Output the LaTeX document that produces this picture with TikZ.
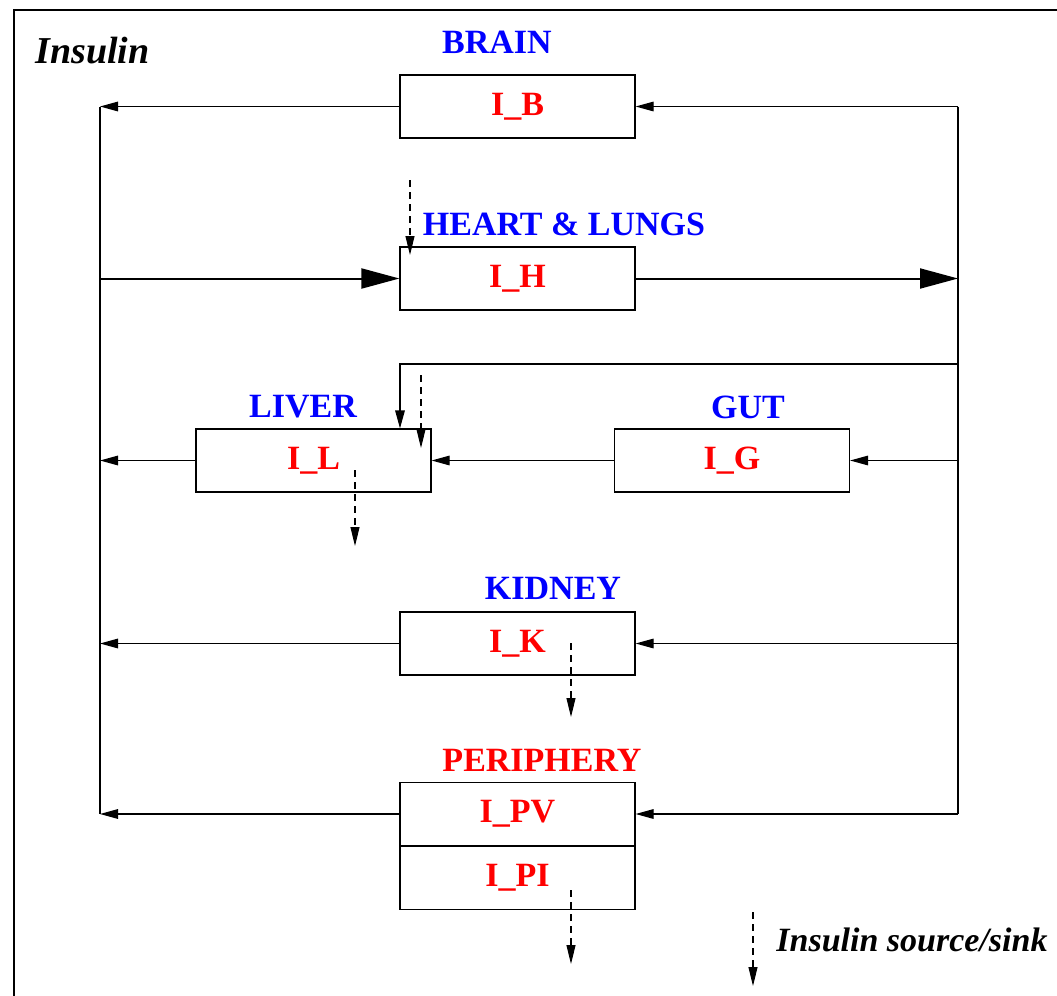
\documentclass[tikz,border=0pt]{standalone}
\usepackage{fontspec}
\setmainfont{Liberation Serif}
\usetikzlibrary{arrows.meta,calc}

\definecolor{organblue}{RGB}{0,0,255}
\definecolor{poolred}{RGB}{255,0,0}

\tikzset{
  pool/.style={draw,line width=0.6pt,minimum width=117.5pt,minimum height=31.5pt,
    inner sep=0pt,font=\fontsize{17}{17}\selectfont\bfseries,text=poolred},
  organ/.style={font=\fontsize{17}{17}\selectfont\bfseries,text=organblue,inner sep=0pt},
  flow/.style={line width=0.6pt,-{Triangle[length=9pt,width=4.8pt]}},
  bigflow/.style={line width=1pt,-{Triangle[length=19pt,width=10pt]}},
  sink/.style={line width=0.55pt,dash pattern=on 3.5pt off 2.5pt,-{Triangle[length=9.5pt,width=4.5pt]}}
}

\begin{document}
\begin{tikzpicture}[x=0.5pt,y=-0.5pt]

    % page frame and margins
    \useasboundingbox (0,0) rectangle (1057,996);
    \draw[line width=0.6pt] (14,996) -- (14,10) -- (1057,10);
    \node[anchor=base west,inner sep=0pt,font=\fontsize{19}{19}\selectfont\bfseries\itshape] (title) at (35,63) {Insulin};

    % compartments
    \node[pool] (brain) at (517.5,106.5) {\raisebox{-1pt}{I\_B}};
    \node[pool] (heart) at (517.5,278.5) {\raisebox{-1pt}{I\_H}};
    \node[pool] (liver) at (313.5,460.5) {\raisebox{-1pt}{I\_L}};
    \node[pool] (gut) at (732,460.5) {\raisebox{-1pt}{I\_G}};
    \node[pool] (kidney) at (517.5,643.5) {\raisebox{-1pt}{I\_K}};
    \node[pool] (pv) at (517.5,814) {\raisebox{-1pt}{I\_PV}};
    \node[pool,anchor=north] (pi) at (pv.south) {\raisebox{-1pt}{I\_PI}};

    % organ names
    \node[organ] (brainlbl) at (497,42) {BRAIN};
    \node[organ] (heartlbl) at (564,224) {HEART \& LUNGS};
    \node[organ] (liverlbl) at (303,407) {LIVER};
    \node[organ] (gutlbl) at (748,407) {GUT};
    \node[organ] (kidneylbl) at (553,588) {KIDNEY};
    \node[organ,text=poolred] (perilbl) at (542,760) {PERIPHERY};

    % venous and arterial buses
    \coordinate (vtop) at (100,106.5);
    \coordinate (vbot) at (100,814);
    \coordinate (atop) at (958,106.5);
    \coordinate (abot) at (958,814);
    \draw[line width=0.6pt] (vtop) -- (vbot);
    \draw[line width=0.6pt] (atop) -- (abot);

    % venous return
    \draw[flow] (brain.west) -- (brain.west -| vtop);
    \draw[flow] (liver.west) -- (liver.west -| vtop);
    \draw[flow] (kidney.west) -- (kidney.west -| vtop);
    \draw[flow] (pv.west) -- (pv.west -| vtop);

    % through the heart and lungs
    \draw[bigflow] (heart.west -| vtop) -- (heart.west);
    \draw[bigflow] (heart.east) -- (heart.east -| atop);

    % arterial supply
    \draw[flow] (brain.east -| atop) -- (brain.east);
    \draw[flow] (gut.east -| atop) -- (gut.east);
    \draw[flow] (kidney.east -| atop) -- (kidney.east);
    \draw[flow] (pv.east -| atop) -- (pv.east);
    \draw[flow] (gut.west) -- (liver.east);
    \coordinate (hepart) at (400,364);
    \draw[flow] (hepart -| atop) -- (hepart) -- (hepart |- liver.north);

    % sources and sinks
    \draw[sink] (410,180) -- (410,255);
    \draw[sink] (421,375) -- (421,448);
    \draw[sink] (355,470) -- (355,546);
    \draw[sink] (571,643) -- (571,717);
    \draw[sink] (571,890) -- (571,964);

    % legend
    \coordinate (legtop) at (753,912);
    \coordinate (legbot) at (753,986);
    \draw[sink] (legtop) -- (legbot);
    \node[anchor=base west,inner sep=0pt,font=\fontsize{17}{17}\selectfont\bfseries\itshape] (legend) at (776,951) {Insulin source/sink};

\end{tikzpicture}
\end{document}
